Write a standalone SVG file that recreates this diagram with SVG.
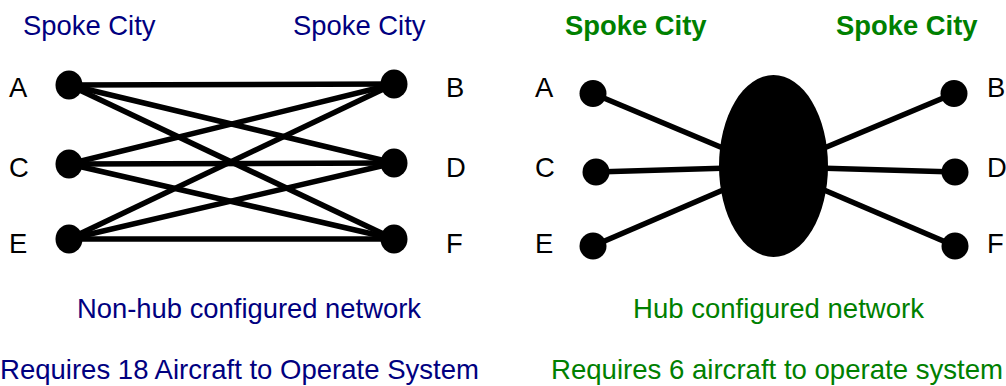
<svg xmlns="http://www.w3.org/2000/svg" width="1006" height="386" viewBox="0 0 1006 386">
<style>
text{font-family:"Liberation Sans",Arial,sans-serif;font-size:27.4px}
.blue{fill:#000080}
.green{fill:#008000}
.bold{font-weight:bold}
.lbl{fill:#000}
.edge{stroke:#000;stroke-width:5.5;fill:none}
.node{fill:#000}
</style>
<rect width="1006" height="386" fill="#fff"/>
<g id="titles">
<text class="blue" x="23" y="35">Spoke City</text>
<text class="blue" x="293" y="35">Spoke City</text>
<text class="green bold" x="565" y="35">Spoke City</text>
<text class="green bold" x="836" y="35">Spoke City</text>
<text class="blue" x="77" y="318" textLength="344" lengthAdjust="spacingAndGlyphs">Non-hub configured network</text>
<text class="blue" x="0" y="379" textLength="479" lengthAdjust="spacingAndGlyphs">Requires 18 Aircraft to Operate System</text>
<text class="green" x="633" y="318" textLength="291" lengthAdjust="spacingAndGlyphs">Hub configured network</text>
<text class="green" x="551" y="379" textLength="452" lengthAdjust="spacingAndGlyphs">Requires 6 aircraft to operate system</text>
</g>
<g id="connectors">
<line class="edge" x1="69" y1="85" x2="394" y2="84"/>
<line class="edge" x1="69" y1="85" x2="394" y2="163"/>
<line class="edge" x1="69" y1="85" x2="394" y2="239"/>
<line class="edge" x1="69" y1="164" x2="394" y2="84"/>
<line class="edge" x1="69" y1="164" x2="394" y2="163"/>
<line class="edge" x1="69" y1="164" x2="394" y2="239"/>
<line class="edge" x1="69" y1="239" x2="394" y2="84"/>
<line class="edge" x1="69" y1="239" x2="394" y2="163"/>
<line class="edge" x1="69" y1="239" x2="394" y2="239"/>
<line class="edge" x1="593" y1="93.5" x2="730" y2="151"/>
<line class="edge" x1="596" y1="172" x2="730" y2="168"/>
<line class="edge" x1="593" y1="246" x2="730" y2="187"/>
<line class="edge" x1="954" y1="93.5" x2="817" y2="151"/>
<line class="edge" x1="955" y1="172" x2="817" y2="168"/>
<line class="edge" x1="955" y1="246" x2="817" y2="187"/>
</g>
<g id="nodeA1"><ellipse class="node" cx="69" cy="85" rx="13.5" ry="14.5"/><text class="lbl" x="9" y="97">A</text></g>
<g id="nodeC1"><ellipse class="node" cx="69" cy="164" rx="13.5" ry="14.5"/><text class="lbl" x="9" y="177">C</text></g>
<g id="nodeE1"><ellipse class="node" cx="69" cy="239" rx="13.5" ry="14.5"/><text class="lbl" x="9" y="253">E</text></g>
<g id="nodeB1"><ellipse class="node" cx="394" cy="84" rx="13.5" ry="14.5"/><text class="lbl" x="446" y="97">B</text></g>
<g id="nodeD1"><ellipse class="node" cx="394" cy="163" rx="13.5" ry="14.5"/><text class="lbl" x="446" y="177">D</text></g>
<g id="nodeF1"><ellipse class="node" cx="394" cy="239" rx="13.5" ry="14.5"/><text class="lbl" x="446" y="253">F</text></g>
<g id="hub"><ellipse class="node" cx="773.5" cy="166" rx="54.5" ry="91"/></g>
<g id="nodeA2"><ellipse class="node" cx="593" cy="93.5" rx="13.5" ry="13.5"/><text class="lbl" x="535" y="97">A</text></g>
<g id="nodeC2"><ellipse class="node" cx="596" cy="172" rx="13.5" ry="13.5"/><text class="lbl" x="535" y="177">C</text></g>
<g id="nodeE2"><ellipse class="node" cx="593" cy="246" rx="13.5" ry="13.5"/><text class="lbl" x="535" y="253">E</text></g>
<g id="nodeB2"><ellipse class="node" cx="954" cy="93.5" rx="13.5" ry="13.5"/><text class="lbl" x="987" y="97">B</text></g>
<g id="nodeD2"><ellipse class="node" cx="955" cy="172" rx="13.5" ry="13.5"/><text class="lbl" x="987" y="177">D</text></g>
<g id="nodeF2"><ellipse class="node" cx="955" cy="246" rx="13.5" ry="13.5"/><text class="lbl" x="987" y="253">F</text></g>
</svg>
